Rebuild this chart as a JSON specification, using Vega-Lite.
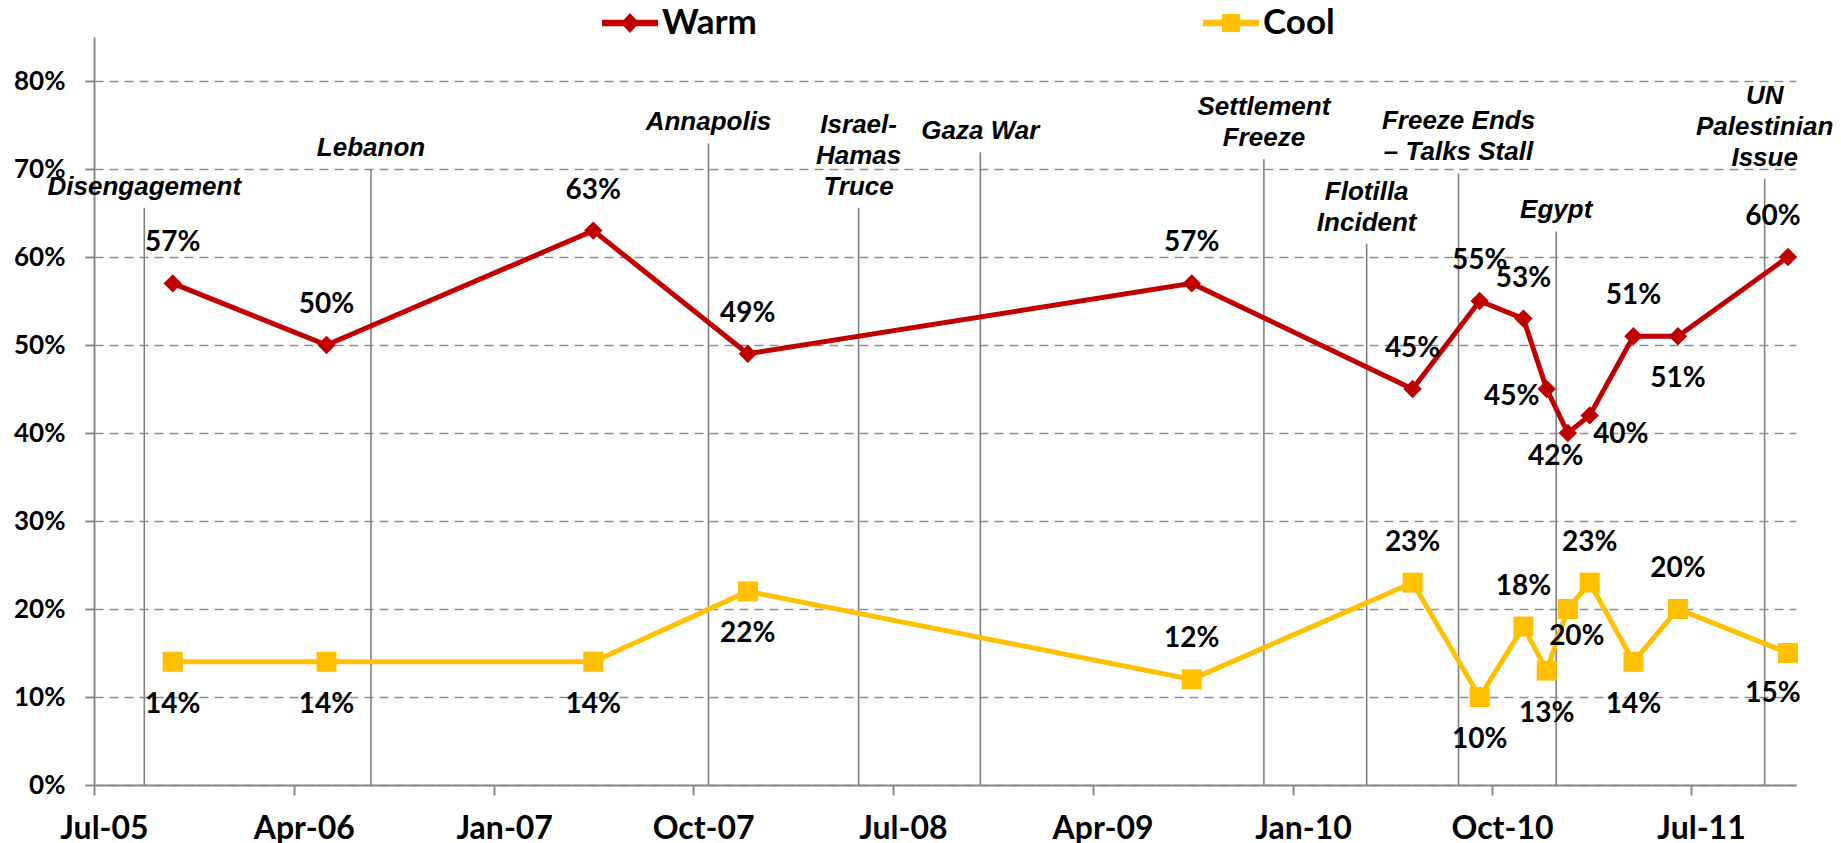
{
  "$schema": "https://vega.github.io/schema/vega-lite/v6.json",
  "width": 1702,
  "height": 748,
  "autosize": "none",
  "padding": {"left": 94, "top": 37, "right": 45, "bottom": 58},
  "background": "white",
  "config": {
    "view": {"stroke": null},
    "axis": {
      "domainColor": "#8a8a8a",
      "domainWidth": 2,
      "tickColor": "#8a8a8a",
      "tickWidth": 2,
      "labelColor": "black",
      "labelFont": "Lato",
      "labelFontWeight": "bold",
      "labelFontSize": 26,
      "gridColor": "#8f8f8f",
      "gridDash": [9, 6],
      "gridWidth": 1.5
    },
    "axisX": {"grid": false, "tickSize": 10, "labelPadding": 18, "labelFontSize": 32, "labelFlush": false, "labelOffset": 10, "labelOverlap": false},
    "axisY": {"grid": true, "tickSize": 9, "labelPadding": 20}
  },
  "datasets": {
    "survey": [
      {"date": "2005-10-17", "series": "Warm", "value": 0.57},
      {"date": "2006-05-16", "series": "Warm", "value": 0.50},
      {"date": "2007-05-17", "series": "Warm", "value": 0.63},
      {"date": "2007-12-15", "series": "Warm", "value": 0.49},
      {"date": "2009-08-15", "series": "Warm", "value": 0.57},
      {"date": "2010-06-14", "series": "Warm", "value": 0.45},
      {"date": "2010-09-14", "series": "Warm", "value": 0.55},
      {"date": "2010-11-13", "series": "Warm", "value": 0.53},
      {"date": "2010-12-15", "series": "Warm", "value": 0.45},
      {"date": "2011-01-13", "series": "Warm", "value": 0.40},
      {"date": "2011-02-12", "series": "Warm", "value": 0.42},
      {"date": "2011-04-13", "series": "Warm", "value": 0.51},
      {"date": "2011-06-13", "series": "Warm", "value": 0.51},
      {"date": "2011-11-11", "series": "Warm", "value": 0.60},
      {"date": "2005-10-17", "series": "Cool", "value": 0.14},
      {"date": "2006-05-16", "series": "Cool", "value": 0.14},
      {"date": "2007-05-17", "series": "Cool", "value": 0.14},
      {"date": "2007-12-15", "series": "Cool", "value": 0.22},
      {"date": "2009-08-15", "series": "Cool", "value": 0.12},
      {"date": "2010-06-14", "series": "Cool", "value": 0.23},
      {"date": "2010-09-14", "series": "Cool", "value": 0.10},
      {"date": "2010-11-13", "series": "Cool", "value": 0.18},
      {"date": "2010-12-15", "series": "Cool", "value": 0.13},
      {"date": "2011-01-13", "series": "Cool", "value": 0.20},
      {"date": "2011-02-12", "series": "Cool", "value": 0.23},
      {"date": "2011-04-13", "series": "Cool", "value": 0.14},
      {"date": "2011-06-13", "series": "Cool", "value": 0.20},
      {"date": "2011-11-11", "series": "Cool", "value": 0.15}
    ],
    "events": [
      {"date": "2005-09-08", "event": "Disengagement", "top": 0.656},
      {"date": "2006-07-16", "event": "Lebanon", "top": 0.70},
      {"date": "2007-10-22", "event": "Annapolis", "top": 0.729},
      {"date": "2008-05-15", "event": "Israel-\nHamas\nTruce", "top": 0.656},
      {"date": "2008-10-29", "event": "Gaza War", "top": 0.719},
      {"date": "2009-11-22", "event": "Settlement\nFreeze", "top": 0.711},
      {"date": "2010-04-12", "event": "Flotilla\nIncident", "top": 0.615},
      {"date": "2010-08-16", "event": "Freeze Ends\n– Talks Stall", "top": 0.695},
      {"date": "2010-12-28", "event": "Egypt", "top": 0.629},
      {"date": "2011-10-10", "event": "UN\nPalestinian\nIssue", "top": 0.689}
    ]
  },
  "layer": [
    {
      "data": {"name": "events", "format": {"parse": {"date": "date"}}},
      "mark": {"type": "rule", "color": "#808080", "strokeWidth": 1.6},
      "encoding": {
        "x": {
          "field": "date", "type": "temporal", "title": null,
          "scale": {"type": "utc", "domain": [{"year": 2005, "month": 7, "date": 1, "utc": true}, {"year": 2011, "month": 11, "date": 22, "utc": true}]},
          "axis": {
            "format": "%b-%y",
            "values": [
              {"year": 2005, "month": 7, "date": 1, "utc": true},
              {"year": 2006, "month": 4, "date": 1, "utc": true},
              {"year": 2007, "month": 1, "date": 1, "utc": true},
              {"year": 2007, "month": 10, "date": 1, "utc": true},
              {"year": 2008, "month": 7, "date": 1, "utc": true},
              {"year": 2009, "month": 4, "date": 1, "utc": true},
              {"year": 2010, "month": 1, "date": 1, "utc": true},
              {"year": 2010, "month": 10, "date": 1, "utc": true},
              {"year": 2011, "month": 7, "date": 1, "utc": true}
            ]
          }
        },
        "y": {
          "field": "top", "type": "quantitative", "title": null,
          "scale": {"domain": [0, 0.85], "nice": false},
          "axis": {"values": [0, 0.1, 0.2, 0.3, 0.4, 0.5, 0.6, 0.7, 0.8], "format": ".0%"}
        },
        "y2": {"datum": 0}
      }
    },
    {
      "data": {"name": "events", "format": {"parse": {"date": "date"}}},
      "transform": [{"filter": "length(split(datum.event, '\\n')) === 1"}],
      "mark": {"type": "text", "font": "Liberation Sans", "fontWeight": "bold", "fontStyle": "italic", "fontSize": 26, "lineHeight": 31, "lineBreak": "\n", "align": "center", "baseline": "bottom", "dy": -8, "color": "black"},
      "encoding": {
        "x": {"field": "date", "type": "temporal", "title": null},
        "y": {"field": "top", "type": "quantitative", "title": null},
        "text": {"field": "event"}
      }
    },
    {
      "data": {"name": "events", "format": {"parse": {"date": "date"}}},
      "transform": [{"filter": "length(split(datum.event, '\\n')) === 2"}],
      "mark": {"type": "text", "font": "Liberation Sans", "fontWeight": "bold", "fontStyle": "italic", "fontSize": 26, "lineHeight": 31, "lineBreak": "\n", "align": "center", "baseline": "bottom", "dy": -39, "color": "black"},
      "encoding": {
        "x": {"field": "date", "type": "temporal", "title": null},
        "y": {"field": "top", "type": "quantitative", "title": null},
        "text": {"field": "event"}
      }
    },
    {
      "data": {"name": "events", "format": {"parse": {"date": "date"}}},
      "transform": [{"filter": "length(split(datum.event, '\\n')) === 3"}],
      "mark": {"type": "text", "font": "Liberation Sans", "fontWeight": "bold", "fontStyle": "italic", "fontSize": 26, "lineHeight": 31, "lineBreak": "\n", "align": "center", "baseline": "bottom", "dy": -70, "color": "black"},
      "encoding": {
        "x": {"field": "date", "type": "temporal", "title": null},
        "y": {"field": "top", "type": "quantitative", "title": null},
        "text": {"field": "event"}
      }
    },
    {
      "data": {"name": "survey", "format": {"parse": {"date": "date"}}},
      "mark": {"type": "line", "strokeWidth": 5},
      "encoding": {
        "x": {"field": "date", "type": "temporal", "title": null},
        "y": {"field": "value", "type": "quantitative", "title": null},
        "color": {
          "field": "series", "type": "nominal",
          "scale": {"domain": ["Warm", "Cool"], "range": ["#C00000", "#FFC000"]},
          "legend": {
            "orient": "none", "legendX": 508, "legendY": -42, "direction": "horizontal",
            "title": null, "padding": 0, "symbolSize": 3136,
            "symbolType": "M-1,-0.12L1,-0.12L1,0.12L-1,0.12Z",
            "symbolStrokeWidth": 0,
            "labelFont": "Lato", "labelFontSize": 35, "labelFontWeight": "bold", "labelColor": "black",
            "labelOffset": 4, "columnPadding": 446,
            "encode": {
              "symbols": {
                "update": {
                  "shape": {"signal": "datum.value === 'Warm' ? 'M-1,-0.12L1,-0.12L1,0.12L-1,0.12Z M-0.33,0L0,-0.36L0.33,0L0,0.36Z' : 'M-1,-0.12L1,-0.12L1,0.12L-1,0.12Z M-0.32,-0.32L0.32,-0.32L0.32,0.32L-0.32,0.32Z'"},
                  "fill": {"signal": "datum.value === 'Warm' ? '#C00000' : '#FFC000'"},
                  "stroke": {"value": "transparent"},
                  "opacity": {"value": 1}
                }
              }
            }
          }
        }
      }
    },
    {
      "data": {"name": "survey", "format": {"parse": {"date": "date"}}},
      "transform": [{"filter": "datum.series === 'Warm'"}],
      "mark": {"type": "point", "shape": "diamond", "filled": true, "size": 340, "color": "#C00000", "opacity": 1},
      "encoding": {
        "x": {"field": "date", "type": "temporal", "title": null},
        "y": {"field": "value", "type": "quantitative", "title": null}
      }
    },
    {
      "data": {"name": "survey", "format": {"parse": {"date": "date"}}},
      "transform": [{"filter": "datum.series === 'Cool'"}],
      "mark": {"type": "point", "shape": "square", "filled": true, "size": 400, "color": "#FFC000", "opacity": 1},
      "encoding": {
        "x": {"field": "date", "type": "temporal", "title": null},
        "y": {"field": "value", "type": "quantitative", "title": null}
      }
    },
    {
      "data": {"name": "survey", "format": {"parse": {"date": "date"}}},
      "transform": [
        {"calculate": "datum.series + '-' + utcyear(datum.date) + '-' + (utcmonth(datum.date) + 1)", "as": "k"},
        {"filter": "indexof(['Warm-2005-10','Warm-2006-5','Warm-2007-5','Warm-2007-12','Warm-2009-8','Warm-2010-6','Warm-2010-9','Warm-2010-11','Warm-2011-4','Cool-2009-8','Cool-2010-6','Cool-2010-11','Cool-2011-2','Cool-2011-6'], datum.k) >= 0"}
      ],
      "mark": {"type": "text", "font": "Lato", "fontWeight": "bold", "fontSize": 28, "color": "black", "align": "center", "baseline": "middle", "dy": -40},
      "encoding": {
        "x": {"field": "date", "type": "temporal", "title": null},
        "y": {"field": "value", "type": "quantitative", "title": null},
        "text": {"field": "value", "type": "quantitative", "format": ".0%"}
      }
    },
    {
      "data": {"name": "survey", "format": {"parse": {"date": "date"}}},
      "transform": [
        {"calculate": "datum.series + '-' + utcyear(datum.date) + '-' + (utcmonth(datum.date) + 1)", "as": "k"},
        {"filter": "indexof(['Cool-2005-10','Cool-2006-5','Cool-2007-5','Cool-2007-12','Cool-2010-9','Cool-2010-12','Cool-2011-4','Warm-2011-6'], datum.k) >= 0"}
      ],
      "mark": {"type": "text", "font": "Lato", "fontWeight": "bold", "fontSize": 28, "color": "black", "align": "center", "baseline": "middle", "dy": 43},
      "encoding": {
        "x": {"field": "date", "type": "temporal", "title": null},
        "y": {"field": "value", "type": "quantitative", "title": null},
        "text": {"field": "value", "type": "quantitative", "format": ".0%"}
      }
    },
    {
      "data": {"name": "survey", "format": {"parse": {"date": "date"}}},
      "transform": [
        {"calculate": "datum.series + '-' + utcyear(datum.date) + '-' + (utcmonth(datum.date) + 1)", "as": "k"},
        {"filter": "datum.k === 'Warm-2011-11'"}
      ],
      "mark": {"type": "text", "font": "Lato", "fontWeight": "bold", "fontSize": 28, "color": "black", "align": "center", "baseline": "middle", "dy": -40, "dx": -15},
      "encoding": {
        "x": {"field": "date", "type": "temporal", "title": null},
        "y": {"field": "value", "type": "quantitative", "title": null},
        "text": {"field": "value", "type": "quantitative", "format": ".0%"}
      }
    },
    {
      "data": {"name": "survey", "format": {"parse": {"date": "date"}}},
      "transform": [
        {"calculate": "datum.series + '-' + utcyear(datum.date) + '-' + (utcmonth(datum.date) + 1)", "as": "k"},
        {"filter": "datum.k === 'Cool-2011-11'"}
      ],
      "mark": {"type": "text", "font": "Lato", "fontWeight": "bold", "fontSize": 28, "color": "black", "align": "center", "baseline": "middle", "dy": 41, "dx": -15},
      "encoding": {
        "x": {"field": "date", "type": "temporal", "title": null},
        "y": {"field": "value", "type": "quantitative", "title": null},
        "text": {"field": "value", "type": "quantitative", "format": ".0%"}
      }
    },
    {
      "data": {"name": "survey", "format": {"parse": {"date": "date"}}},
      "transform": [
        {"calculate": "datum.series + '-' + utcyear(datum.date) + '-' + (utcmonth(datum.date) + 1)", "as": "k"},
        {"filter": "datum.k === 'Warm-2010-12'"}
      ],
      "mark": {"type": "text", "font": "Lato", "fontWeight": "bold", "fontSize": 28, "color": "black", "align": "center", "baseline": "middle", "dy": 8, "dx": -35},
      "encoding": {
        "x": {"field": "date", "type": "temporal", "title": null},
        "y": {"field": "value", "type": "quantitative", "title": null},
        "text": {"field": "value", "type": "quantitative", "format": ".0%"}
      }
    },
    {
      "data": {"name": "survey", "format": {"parse": {"date": "date"}}},
      "transform": [
        {"calculate": "datum.series + '-' + utcyear(datum.date) + '-' + (utcmonth(datum.date) + 1)", "as": "k"},
        {"filter": "datum.k === 'Warm-2011-1'"}
      ],
      "mark": {"type": "text", "font": "Lato", "fontWeight": "bold", "fontSize": 28, "color": "black", "align": "center", "baseline": "middle", "dy": 2, "dx": 53},
      "encoding": {
        "x": {"field": "date", "type": "temporal", "title": null},
        "y": {"field": "value", "type": "quantitative", "title": null},
        "text": {"field": "value", "type": "quantitative", "format": ".0%"}
      }
    },
    {
      "data": {"name": "survey", "format": {"parse": {"date": "date"}}},
      "transform": [
        {"calculate": "datum.series + '-' + utcyear(datum.date) + '-' + (utcmonth(datum.date) + 1)", "as": "k"},
        {"filter": "datum.k === 'Warm-2011-2'"}
      ],
      "mark": {"type": "text", "font": "Lato", "fontWeight": "bold", "fontSize": 28, "color": "black", "align": "center", "baseline": "middle", "dy": 42, "dx": -34},
      "encoding": {
        "x": {"field": "date", "type": "temporal", "title": null},
        "y": {"field": "value", "type": "quantitative", "title": null},
        "text": {"field": "value", "type": "quantitative", "format": ".0%"}
      }
    },
    {
      "data": {"name": "survey", "format": {"parse": {"date": "date"}}},
      "transform": [
        {"calculate": "datum.series + '-' + utcyear(datum.date) + '-' + (utcmonth(datum.date) + 1)", "as": "k"},
        {"filter": "datum.k === 'Cool-2011-1'"}
      ],
      "mark": {"type": "text", "font": "Lato", "fontWeight": "bold", "fontSize": 28, "color": "black", "align": "center", "baseline": "middle", "dy": 28, "dx": 9},
      "encoding": {
        "x": {"field": "date", "type": "temporal", "title": null},
        "y": {"field": "value", "type": "quantitative", "title": null},
        "text": {"field": "value", "type": "quantitative", "format": ".0%"}
      }
    }
  ]
}
